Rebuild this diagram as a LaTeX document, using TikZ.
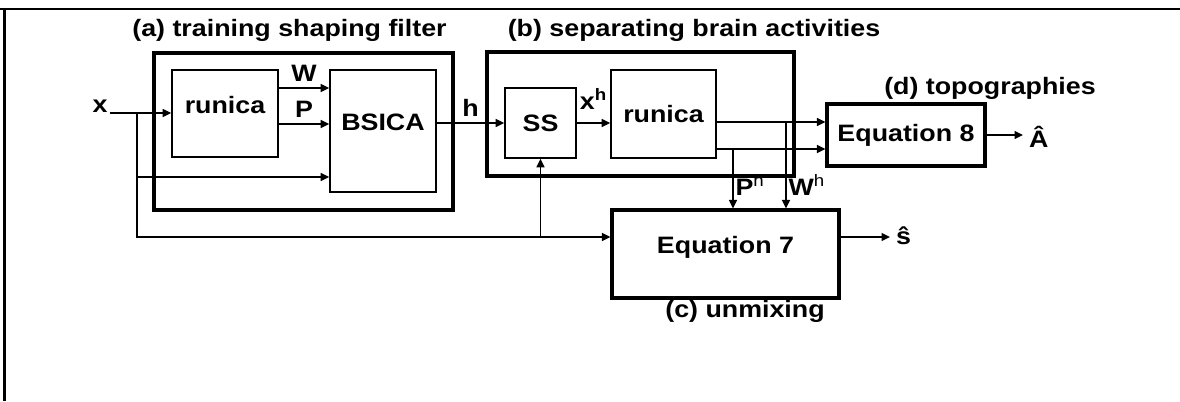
\documentclass[tikz,border=0pt]{standalone}
\usepackage{fontspec}
\setsansfont{Liberation Sans}[FakeStretch=1.13]
\usetikzlibrary{arrows.meta,calc}
\newcommand{\diafont}{\sffamily\bfseries\fontsize{13.5}{16}\selectfont}

\begin{document}
\begin{tikzpicture}[
    every node/.style={font=\diafont},
    blk/.style={rectangle, draw, line width=1pt},
    grp/.style={rectangle, draw, line width=2pt},
    eqbox/.style={rectangle, draw, line width=1.8pt},
    txtup/.style={text height=0.35cm, text depth=0.35cm},
    wire/.style={line width=0.9pt},
    arr/.style={-{Triangle[length=1.7mm,width=1.6mm]}, line width=0.9pt},
    taglbl/.style={pos=1, anchor=south west, inner sep=1pt, yshift=0.2cm}
  ]
  \useasboundingbox (0,0) rectangle (23.6,8.02);
  % frame
  \draw[line width=1.3pt] (0,7.84) -- (23.6,7.84);
  \draw[line width=1.6pt] (0.09,0) -- (0.09,7.84);

  % (a) training shaping filter
  \node[grp, minimum width=5.98cm, minimum height=3.14cm] (grpa) at (6.07, 5.39) {};
  \node[anchor=base] (ttla) at (5.79, 7.28) {(a) training shaping filter};
  \node[blk, txtup, minimum width=2.12cm, minimum height=1.74cm] (run1) at (4.50, 5.75) {runica};
  \node[blk, txtup, minimum width=2.12cm, minimum height=2.44cm] (bsica) at (7.66, 5.40) {BSICA};
  \node[anchor=base, inner sep=1pt] (xin) at (2.0, 5.76) {x};
  \coordinate (xsplit) at (2.74, 5.76);
  \coordinate (xmid) at (2.74, 4.48);
  \coordinate (xbot) at (2.74, 3.28);
  \coordinate (wout) at ([yshift=0.51cm]run1.east);
  \coordinate (pout) at ([yshift=-0.21cm]run1.east);
  \draw[arr] (xin.base east) -- (xin.base east -| run1.west);
  \draw[arr] (xmid) -- (xmid -| bsica.west);
  \draw[arr] (wout) -- (wout -| bsica.west) node[midway, above] {W};
  \draw[arr] (pout) -- (pout -| bsica.west) node[midway, above] {P};

  % (b) separating brain activities
  \node[grp, minimum width=6.14cm, minimum height=2.48cm] (grpb) at (12.81, 5.74) {};
  \node[anchor=base] (ttlb) at (13.88, 7.28) {(b) separating brain activities};
  \node[blk, minimum width=1.42cm, minimum height=1.40cm] (ss) at (10.81, 5.56) {SS};
  \node[blk, minimum width=2.10cm, minimum height=1.76cm] (run2) at (13.27, 5.74) {runica};
  \draw[arr] (ss.west -| bsica.east) -- (ss.west) node[midway, above] {h};
  \draw[arr] (ss.east) -- (ss.east -| run2.west) node[midway, above=4pt] {x\textsuperscript{h}};

  % (d) topographies
  \node[eqbox, minimum width=3.16cm, minimum height=1.24cm] (eq8) at (18.12, 5.32) {Equation 8};
  \node[anchor=base] (ttld) at (19.80, 6.12) {(d) topographies};
  \node[anchor=base west] (ahat) at (20.46, 5.06) {Â};
  \coordinate (rup) at ([yshift=-0.16cm]run2.east);
  \coordinate (rlo) at ([yshift=-0.70cm]run2.east);
  \draw[arr] (rup) -- (rup -| eq8.west);
  \draw[arr] (rlo) -- (rlo -| eq8.west);
  \draw[arr] (eq8.east) -- (eq8.east -| ahat.west);

  % (c) unmixing
  \node[eqbox, txtup, minimum width=4.54cm, minimum height=1.76cm] (eq7) at (14.51, 2.94) {Equation 7};
  \node[anchor=base] (ttlc) at (14.90, 1.68) {(c) unmixing};
  \node[anchor=base west] (shat) at (17.80, 3.12) {ŝ};
  \coordinate (ptap) at (14.66, 5.04);
  \coordinate (wtap) at (15.72, 5.58);
  \coordinate (sout) at ([yshift=0.34cm]eq7.east);
  \draw[arr] (ptap) -- (ptap |- eq7.north) node[taglbl] {P\textsuperscript{\mdseries h}};
  \draw[arr] (wtap) -- (wtap |- eq7.north) node[taglbl] {W\textsuperscript{\mdseries h}};
  \draw[wire] (xsplit) -- (xmid);
  \draw[arr] (xmid) -- (xbot) -- (xbot -| eq7.west);
  \draw[arr] (xbot -| ss.south) -- (ss.south);
  \draw[arr] (sout) -- (sout -| shat.west);
\end{tikzpicture}
\end{document}
